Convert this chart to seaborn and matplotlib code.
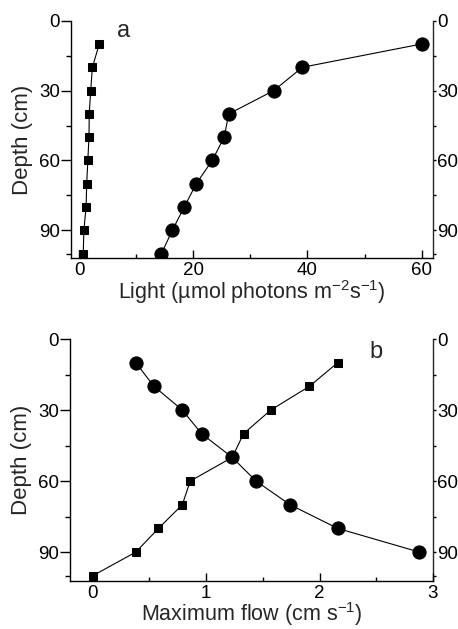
import matplotlib
matplotlib.use("Agg")
import matplotlib.pyplot as plt
import seaborn as sns
import pandas as pd
from matplotlib.ticker import FixedLocator

# ---- data ----
depth_a = [10, 20, 30, 40, 50, 60, 70, 80, 90, 100]
light_square = [3.5, 2.3, 2.0, 1.75, 1.7, 1.5, 1.3, 1.2, 0.8, 0.7]
light_circle = [60.0, 39.1, 34.1, 26.2, 25.4, 23.3, 20.5, 18.4, 16.3, 14.4]

depth_b_circle = [10, 20, 30, 40, 50, 60, 70, 80, 90]
flow_circle = [0.38, 0.54, 0.79, 0.96, 1.23, 1.44, 1.74, 2.16, 2.88]
depth_b_square = [10, 20, 30, 40, 50, 60, 70, 80, 90, 100]
flow_square = [2.16, 1.91, 1.57, 1.33, 1.23, 0.86, 0.79, 0.58, 0.38, 0.0]

depth_ticks = [0, 30, 60, 90]
depth_minor = [15, 45, 75, 100]
light_ticks = [0, 20, 40, 60]
light_minor = [10, 30, 50]
flow_ticks = [0, 1, 2, 3]
flow_minor = [0.5, 1.5, 2.5]

sns.set_style("ticks")
plt.rcParams["font.family"] = ["Liberation Sans", "DejaVu Sans"]
plt.rcParams["mathtext.fontset"] = "custom"
plt.rcParams["mathtext.rm"] = "Liberation Sans"
plt.rcParams["mathtext.it"] = "Liberation Sans:italic"
plt.rcParams["mathtext.default"] = "regular"

fig = plt.figure(figsize=(4.58, 6.29), dpi=100)
ax_a = fig.add_axes([71/458, 1 - 258.3/629, 362/458, 237.6/629])
ax_b = fig.add_axes([70/458, 1 - 580.5/629, 363/458, 241.5/629])

LW = 0.8
TICK_FS = 13.5


def draw(ax, x, y, marker, ms):
    df = pd.DataFrame({"x": x, "y": y})
    sns.lineplot(data=df, x="x", y="y", sort=False, estimator=None,
                 marker=marker, markersize=ms, color="black",
                 markeredgecolor="black", linewidth=LW, ax=ax)


draw(ax_a, light_square, depth_a, "s", 6.3)
draw(ax_a, light_circle, depth_a, "o", 9.5)
draw(ax_b, flow_circle, depth_b_circle, "o", 9.5)
draw(ax_b, flow_square, depth_b_square, "s", 6.3)


def style(ax, xlim, xt, xm, xlabel):
    ax.set_xlim(*xlim)
    ax.set_ylim(102, 0)
    ax.set_xticks(xt)
    ax.set_xticklabels([str(v) for v in xt])
    ax.xaxis.set_minor_locator(FixedLocator(xm))
    ax.set_yticks(depth_ticks)
    ax.set_yticklabels([str(v) for v in depth_ticks])
    ax.yaxis.set_minor_locator(FixedLocator(depth_minor))
    for s in ["top", "right"]:
        ax.spines[s].set_visible(False)
    for s in ["left", "bottom"]:
        ax.spines[s].set_linewidth(1.0)
        ax.spines[s].set_color("black")
    ax.tick_params(axis="x", which="major", direction="in", length=6,
                   width=1, labelsize=TICK_FS, pad=3, colors="black")
    ax.tick_params(axis="x", which="minor", direction="in", length=3,
                   width=1, colors="black")
    ax.tick_params(axis="y", which="major", direction="out", length=7,
                   width=1, labelsize=TICK_FS, pad=1, colors="black")
    ax.tick_params(axis="y", which="minor", direction="out", length=3.5,
                   width=1, colors="black")
    ax.set_xlabel(xlabel, fontsize=15.5, labelpad=-1)
    ax.set_ylabel("Depth (cm)", fontsize=16, labelpad=4)
    sec = ax.secondary_yaxis("right")
    sec.set_yticks(depth_ticks)
    sec.set_yticklabels([str(v) for v in depth_ticks])
    sec.yaxis.set_minor_locator(FixedLocator(depth_minor))
    sec.spines["right"].set_linewidth(1.0)
    sec.tick_params(axis="y", which="major", direction="out", length=2.5,
                    width=1, labelsize=TICK_FS, pad=0.3, colors="black")
    sec.tick_params(axis="y", which="minor", direction="out", length=2,
                    width=1, colors="black")


style(ax_a, (-1.45, 62), light_ticks, light_minor,
      r"Light (µmol photons m$^{-2}$s$^{-1}$)")
style(ax_b, (-0.2, 3.0), flow_ticks, flow_minor,
      r"Maximum flow (cm s$^{-1}$)")

fig.text(117/458, 1 - 37/629, "a", fontsize=17, va="baseline", ha="left")
fig.text(369/458, 1 - 358/629, "b", fontsize=17, va="baseline", ha="left")

fig.savefig("out.png", dpi=100, facecolor="white")
